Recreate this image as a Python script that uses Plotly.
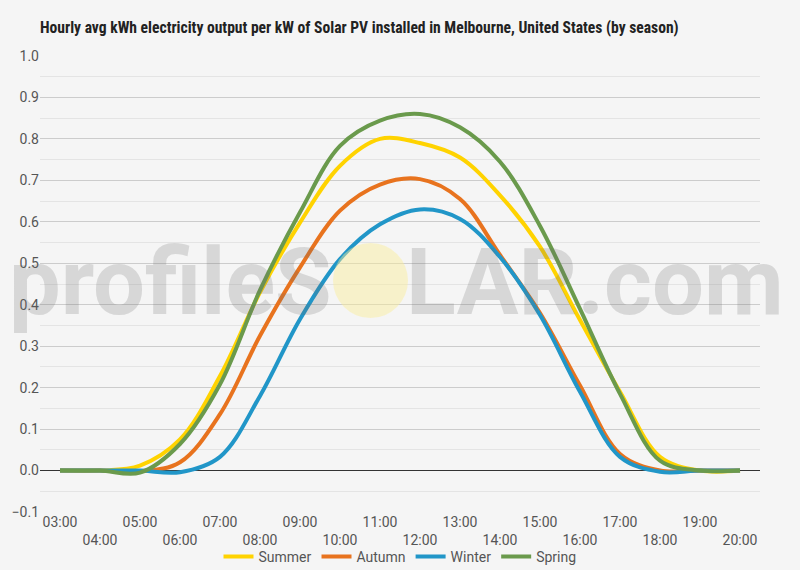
import plotly.graph_objects as go

hours = ["03:00", "04:00", "05:00", "06:00", "07:00", "08:00", "09:00", "10:00", "11:00",
         "12:00", "13:00", "14:00", "15:00", "16:00", "17:00", "18:00", "19:00", "20:00"]
summer = [0, 0, 0.012, 0.075, 0.228, 0.43, 0.598, 0.735, 0.80, 0.79, 0.755, 0.664, 0.54, 0.363, 0.19, 0.033, 0.0, 0]
autumn = [0, 0, -0.002, 0.02, 0.136, 0.325, 0.49, 0.627, 0.69, 0.703, 0.655, 0.52, 0.38, 0.205, 0.04, 0.0, 0, 0]
winter = [0, 0, 0, -0.004, 0.033, 0.18, 0.365, 0.51, 0.594, 0.63, 0.607, 0.515, 0.375, 0.19, 0.033, -0.003, 0, 0]
spring = [0, 0, -0.005, 0.064, 0.208, 0.435, 0.623, 0.783, 0.844, 0.86, 0.828, 0.745, 0.59, 0.39, 0.185, 0.024, 0, 0]

series = [("Summer", summer, "#FFD300"), ("Autumn", autumn, "#E8731E"),
          ("Winter", winter, "#2196C8"), ("Spring", spring, "#6A9A4C")]

tick_text = [h if i % 2 == 0 else "<br>" + h for i, h in enumerate(hours)]

W, H = 800, 570
L, R, T, B = 40, 40, 56, 58


def px(x):
    return (x - L) / (W - L - R)


def py(y):
    return (H - B - y) / (H - T - B)


fig = go.Figure()
for name, vals, col in series:
    fig.add_trace(go.Scatter(x=hours, y=vals, name=name, mode="lines",
                             line=dict(color=col, width=4, shape="spline", smoothing=1.0)))

wm_font = dict(family="Roboto", size=92, color="rgba(110,110,110,0.22)", weight=700)
fig.add_annotation(text="profileS", xref="paper", yref="paper", x=px(334), y=py(282),
                   xanchor="right", yanchor="middle", showarrow=False, font=wm_font)
fig.add_annotation(text="LAR.com", xref="paper", yref="paper", x=px(404), y=py(282),
                   xanchor="left", yanchor="middle", showarrow=False, font=wm_font)
fig.add_shape(type="circle", xref="paper", yref="paper",
              x0=px(333), x1=px(408), y0=py(318), y1=py(243),
              fillcolor="rgba(250,238,150,0.45)", line=dict(width=0), layer="above")

fig.update_layout(
    width=W, height=H,
    margin=dict(l=L, r=R, t=T, b=B, autoexpand=False),
    paper_bgcolor="#f5f5f5", plot_bgcolor="#f5f5f5",
    font=dict(family="Roboto", size=14, color="#555555"),
    title=dict(text="<b>Hourly avg kWh electricity output per kW of Solar PV installed in Melbourne, United States (by season)</b>",
               xref="paper", x=0, xanchor="left", yref="container", y=1 - 28 / H, yanchor="middle",
               font=dict(family="Roboto Condensed, Liberation Sans Narrow, Roboto", size=15.6, color="#222222")),
    showlegend=True,
    legend=dict(orientation="h", x=0.5, xanchor="center", yref="container", y=(H - 557) / H, yanchor="middle",
                font=dict(size=14, color="#555555"), bgcolor="rgba(0,0,0,0)",
                itemwidth=30, tracegroupgap=0),
    xaxis=dict(type="category", categoryorder="array", categoryarray=hours,
               range=[-0.5, len(hours) - 0.5], automargin=False,
               tickmode="array", tickvals=hours, ticktext=tick_text,
               showgrid=False, showline=False, ticks="", tickfont=dict(size=14, color="#555555"),
               tickangle=0),
    yaxis=dict(range=[-0.1, 1.0], dtick=0.1, tick0=0, tickformat=".1f", automargin=False,
               showgrid=True, gridcolor="#cccccc", gridwidth=1,
               minor=dict(dtick=0.05, showgrid=True, gridcolor="#e4e4e4"),
               zeroline=True, zerolinecolor="#333333", zerolinewidth=1,
               ticks="", tickfont=dict(size=14, color="#555555")),
)

fig.write_html("out.html")
